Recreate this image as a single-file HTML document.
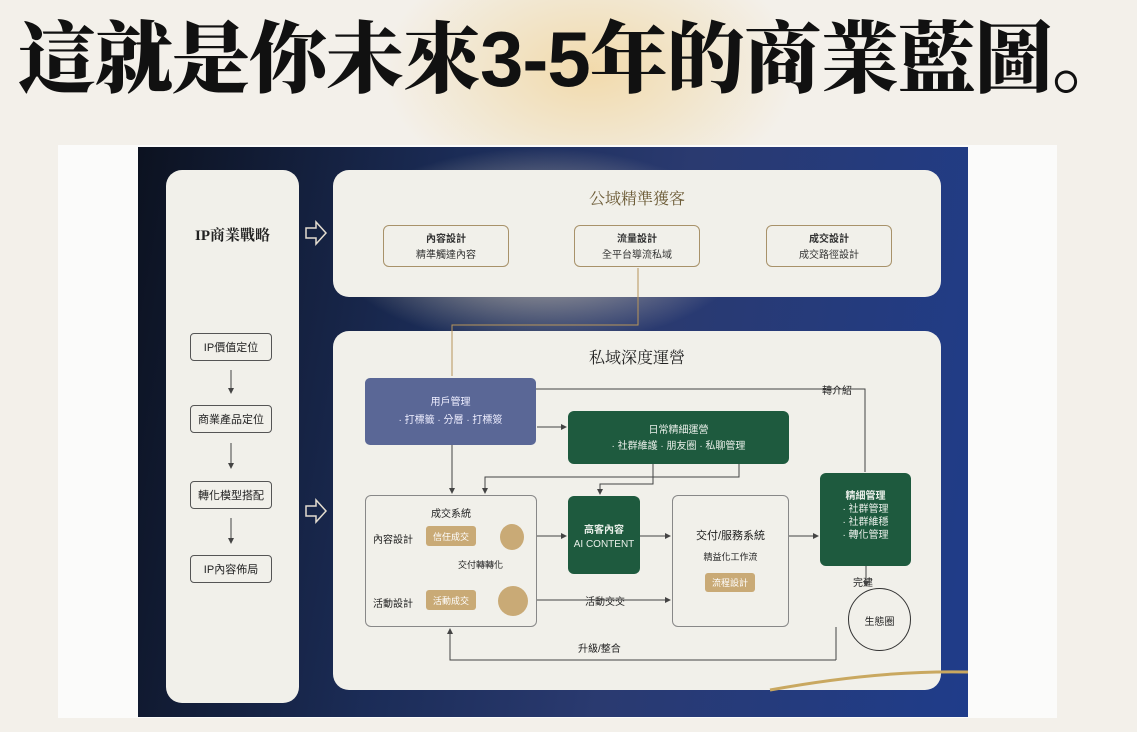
<!DOCTYPE html>
<html><head><meta charset="utf-8"><style>
*{margin:0;padding:0;box-sizing:border-box}
body{width:1137px;height:732px;overflow:hidden;background:#f3f0ea;font-family:"Liberation Sans","Noto Sans CJK TC",sans-serif;position:relative}
.glow{position:absolute;left:380px;top:-60px;width:420px;height:260px;background:radial-gradient(ellipse at center,rgba(240,200,120,.55),rgba(243,240,234,0) 70%)}
h1{position:absolute;left:18px;top:14px;font-size:78px;font-weight:900;color:#111;letter-spacing:-1px;white-space:nowrap;font-family:"Liberation Sans","Noto Serif CJK SC","Noto Sans CJK TC",serif;line-height:90px}
.frame{position:absolute;left:58px;top:145px;width:999px;height:573px;background:#fbfbfa}
.dark{position:absolute;left:138px;top:147px;width:830px;height:570px;background:linear-gradient(100deg,#0c1220 0%,#1b2c57 35%,#2a3a70 60%,#1f3c8a 100%)}
.shine{position:absolute;left:330px;top:147px;width:420px;height:200px;background:radial-gradient(ellipse at center,rgba(250,235,200,.8),rgba(250,235,200,0) 70%)}
.box{position:absolute;background:#f1f0ea;border-radius:16px}
.t{position:absolute;font-size:12px;color:#222;text-align:center;white-space:nowrap}
.sb{position:absolute;border:1.5px solid #555;border-radius:4px;background:#f1f0ea;font-size:11px;display:flex;align-items:center;justify-content:center;color:#222}
.ob{position:absolute;border:1px solid #a8926a;border-radius:6px;text-align:center;font-size:10px;color:#333;padding-top:6px;line-height:16px}
.g{position:absolute;background:#1e5a3e;border-radius:6px;color:#e9efe9;font-size:10px;text-align:center}
.gold{position:absolute;background:#c9aa76;color:#fff;font-size:9px;border-radius:3px;display:flex;align-items:center;justify-content:center}
svg{position:absolute;left:0;top:0}
</style></head><body>
<div class="glow"></div>
<h1>這就是你未來3-5年的商業藍圖。</h1>
<div class="frame"></div>
<div class="dark"></div>
<div class="shine"></div>
<div class="box" style="left:166px;top:170px;width:133px;height:533px"></div>
<div class="box" style="left:333px;top:170px;width:608px;height:127px"></div>
<div class="box" style="left:333px;top:331px;width:608px;height:359px"></div>
<div class="t" style="left:166px;top:224px;width:133px;font-size:15px;font-weight:bold;font-family:'Liberation Serif','Noto Serif CJK SC',serif">IP商業戰略</div>
<div class="sb" style="left:190px;top:333px;width:82px;height:28px">IP價值定位</div>
<div class="sb" style="left:190px;top:405px;width:82px;height:28px">商業產品定位</div>
<div class="sb" style="left:190px;top:481px;width:82px;height:28px">轉化模型搭配</div>
<div class="sb" style="left:190px;top:555px;width:82px;height:28px">IP內容佈局</div>
<div class="t" style="left:333px;top:186px;width:608px;font-size:16px;color:#6b5a35;font-family:'Liberation Serif','Noto Serif CJK SC',serif">公域精準獲客</div>
<div class="ob" style="left:383px;top:225px;width:126px;height:42px"><b>內容設計</b><br>精準觸達內容</div>
<div class="ob" style="left:574px;top:225px;width:126px;height:42px"><b>流量設計</b><br>全平台導流私域</div>
<div class="ob" style="left:766px;top:225px;width:126px;height:42px"><b>成交設計</b><br>成交路徑設計</div>
<div class="t" style="left:333px;top:345px;width:608px;font-size:16px;color:#222;font-family:'Liberation Serif','Noto Serif CJK SC',serif">私域深度運營</div>
<div style="position:absolute;left:365px;top:378px;width:171px;height:67px;background:#5a6796;border-radius:5px;color:#eef;font-size:10px;text-align:center;padding-top:16px;line-height:18px">用戶管理<br>· 打標籤 · 分層 · 打標簽</div>
<div class="g" style="left:568px;top:411px;width:221px;height:53px;padding-top:12px;line-height:16px">日常精細運營<br>· 社群維護 · 朋友圈 · 私聊管理</div>
<div class="box" style="left:365px;top:495px;width:172px;height:132px;border:1px solid #888;border-radius:6px;background:#f1f0ea"></div>
<div class="t" style="left:365px;top:505px;width:172px;font-size:10px">成交系統</div>
<div class="t" style="left:373px;top:531px;font-size:10px">內容設計</div>
<div class="gold" style="left:426px;top:526px;width:50px;height:20px">信任成交</div>
<div style="position:absolute;left:500px;top:524px;width:24px;height:26px;border-radius:50%;background:#c9aa76"></div>
<div class="t" style="left:458px;top:558px;font-size:9px">交付轉轉化</div>
<div class="t" style="left:373px;top:595px;font-size:10px">活動設計</div>
<div class="gold" style="left:426px;top:590px;width:50px;height:20px">活動成交</div>
<div style="position:absolute;left:498px;top:586px;width:30px;height:30px;border-radius:50%;background:#c9aa76"></div>
<div class="g" style="left:568px;top:496px;width:72px;height:78px;padding-top:28px;line-height:14px"><b>高客內容</b><br>AI CONTENT</div>
<div class="box" style="left:672px;top:495px;width:117px;height:132px;border:1px solid #888;border-radius:6px;background:#f1f0ea"></div>
<div class="t" style="left:672px;top:527px;width:117px;font-size:11px">交付/服務系統</div>
<div class="t" style="left:672px;top:550px;width:117px;font-size:9px">精益化工作流</div>
<div class="gold" style="left:705px;top:573px;width:50px;height:19px">流程設計</div>
<div class="g" style="left:820px;top:473px;width:91px;height:93px;padding-top:17px;line-height:13px"><b>精細管理</b><br>· 社群管理<br>· 社群維穩<br>· 轉化管理</div>
<div style="position:absolute;left:848px;top:588px;width:63px;height:63px;border:1.5px solid #333;border-radius:50%"></div>
<div class="t" style="left:848px;top:613px;width:63px;font-size:10px">生態圈</div>
<div class="t" style="left:853px;top:574px;font-size:10px">完建</div>
<div class="t" style="left:822px;top:382px;font-size:10px">轉介紹</div>
<div class="t" style="left:585px;top:593px;font-size:10px">活動交交</div>
<div class="t" style="left:578px;top:640px;font-size:10px">升級/整合</div>
<svg width="1137" height="732">
<defs><marker id="a" markerWidth="6" markerHeight="6" refX="5" refY="3" orient="auto" markerUnits="userSpaceOnUse"><path d="M0,0L6,3L0,6z" fill="#444"/></marker></defs>
<g fill="none" stroke="#444" stroke-width="1" marker-end="url(#a)">
<path d="M231 370V393"/><path d="M231 443V468"/><path d="M231 518V543"/>
<path d="M452 445V493"/><path d="M537 427H566"/><path d="M739 464V477H485V493"/><path d="M653 464V484H600V494"/>
<path d="M537 536H566"/><path d="M640 536H670"/><path d="M789 536H818"/><path d="M537 600H670"/><path d="M866 566V586"/>
<path d="M836 660H450V629"/>
</g>
<g fill="none" stroke="#444" stroke-width="1">
<path d="M836 660V627"/><path d="M536 389H865V472"/>
</g>
<path d="M638 268V325H452V376" stroke="#b8955a" fill="none"/>
<g fill="none" stroke="#e3dccf" stroke-width="1.5"><path d="M306 228h10v-6l10 11-10 11v-6h-10z M306 506h10v-6l10 11-10 11v-6h-10z"/></g>
<path d="M770 690 Q880 670 968 672" stroke="#c9a860" stroke-width="3" fill="none"/>
</svg>
</body></html>
